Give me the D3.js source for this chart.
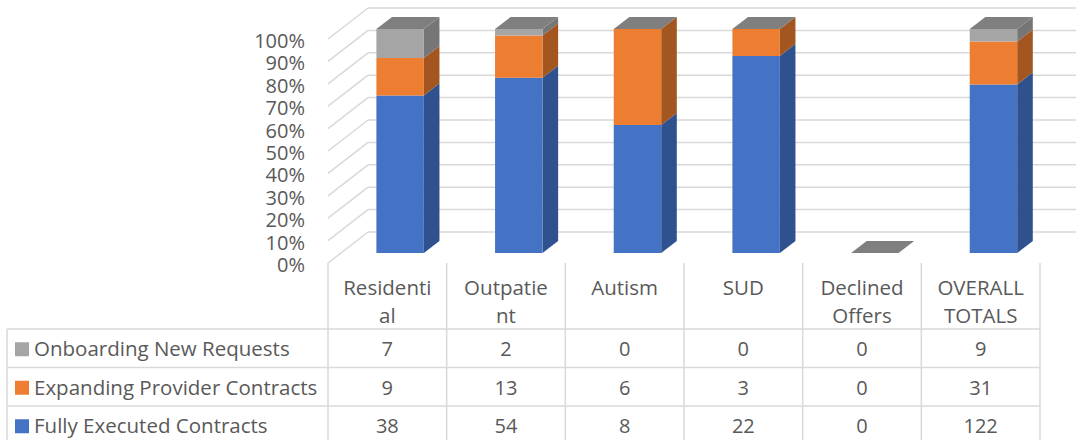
<!DOCTYPE html>
<html>
<head>
<meta charset="utf-8">
<script src="https://cdn.jsdelivr.net/npm/d3@7"></script>
<style>
    html, body { margin: 0; padding: 0; background: #fff; }
    svg { display: block; font-family: 'Open Sans', sans-serif; }
    text { fill: #595959; }
</style>
</head>
<body>
<svg id="chart" width="1076" height="440"></svg>
<script>
const categories = ['Residential', 'Outpatient', 'Autism', 'SUD', 'Declined Offers', 'OVERALL TOTALS'];
const headerLines = [['Residenti', 'al'], ['Outpatie', 'nt'], ['Autism'], ['SUD'], ['Declined', 'Offers'], ['OVERALL', 'TOTALS']];

const seriesNames = ['Fully Executed Contracts', 'Expanding Provider Contracts', 'Onboarding New Requests'];
const fullyExecuted = [38, 54, 8, 22, 0, 122];
const expanding = [9, 13, 6, 3, 0, 31];
const onboarding = [7, 2, 0, 0, 0, 9];

const yTicks = [0, 0.1, 0.2, 0.3, 0.4, 0.5, 0.6, 0.7, 0.8, 0.9, 1];

const FRONT = ['#4472C4', '#ED7D31', '#A5A5A5'];
const SIDE = ['#2F528F', '#A3561F', '#767676'];
const TOP_GRAY = '#7F7F7F';

// depth of the 3D box, in px
const DX = 40;
const DY = 31;
const BAR_Z0 = 0.32;
const BAR_Z1 = 0.71;

const svg = d3.select('#chart');

const x = d3.scaleBand().domain(categories).range([328, 1040]);
const y = d3.scaleLinear().domain([0, 1]).range([263, 39]);

const px = (xv, z) => xv + z * DX;
const py = (v, z) => y(v) - z * DY;
const pt = (xv, v, z) => [px(xv, z), py(v, z)];
const poly = pts => 'M' + pts.map(p => p.join(',')).join('L') + 'Z';

// walls: gridlines on the side wall and the back wall
const grid = svg.append('g').attr('stroke', '#d9d9d9').attr('stroke-width', 1.5).attr('fill', 'none');
yTicks.forEach(t => {
    grid.append('path').attr('d', 'M' + pt(328, t, 0).join(',') + 'L' + pt(328, t, 1).join(','));
    grid.append('path').attr('d', 'M' + pt(328, t, 1).join(',') + 'L1076,' + py(t, 1));
});

// y axis labels
const yAxis = d3.axisLeft(y)
    .tickValues(yTicks)
    .tickFormat(d3.format('.0%'))
    .tickSize(0)
    .tickPadding(0);
const axisG = svg.append('g').attr('transform', 'translate(305,2)').call(yAxis);
axisG.select('.domain').remove();
axisG.selectAll('text')
    .attr('font-size', 20)
    .attr('font-family', 'Open Sans, sans-serif')
    .attr('fill', '#595959');

// stacked data (100%)
const rows = categories.map((c, i) => ({ cat: c, a: fullyExecuted[i], b: expanding[i], c2: onboarding[i] }));
const stack = d3.stack().keys(['a', 'b', 'c2']).offset(d3.stackOffsetExpand);
const layers = stack(rows);

const barW = x.bandwidth() * 0.4;
const bars = svg.append('g');

categories.forEach((cat, i) => {
    const xl = x(cat) + x.bandwidth() / 2 - barW / 2;
    const xr = xl + barW;
    let topV = 0;
    layers.forEach((layer, s) => {
        const v0 = layer[i][0];
        const v1 = layer[i][1];
        if (v1 - v0 <= 0) return;
        bars.append('path')
            .attr('d', poly([pt(xr, v0, BAR_Z0), pt(xr, v0, BAR_Z1), pt(xr, v1, BAR_Z1), pt(xr, v1, BAR_Z0)]))
            .attr('fill', SIDE[s]);
        bars.append('path')
            .attr('d', poly([pt(xl, v0, BAR_Z0), pt(xr, v0, BAR_Z0), pt(xr, v1, BAR_Z0), pt(xl, v1, BAR_Z0)]))
            .attr('fill', FRONT[s]);
        topV = Math.max(topV, v1);
    });
    bars.append('path')
        .attr('d', poly([pt(xl, topV, BAR_Z0), pt(xr, topV, BAR_Z0), pt(xr, topV, BAR_Z1), pt(xl, topV, BAR_Z1)]))
        .attr('fill', TOP_GRAY);
});

// data table
const ROW_TOP = 329;
const ROW_H = 38.5;
const tableRows = [
    { name: seriesNames[2], values: onboarding, color: FRONT[2] },
    { name: seriesNames[1], values: expanding, color: FRONT[1] },
    { name: seriesNames[0], values: fullyExecuted, color: FRONT[0] }
];

const table = svg.append('g');
const lines = table.append('g').attr('stroke', '#d9d9d9').attr('stroke-width', 1.5);

// column dividers
const colEdges = categories.map(c => x(c)).concat([x.range()[1]]);
colEdges.forEach(cx => {
    lines.append('line').attr('x1', cx).attr('x2', cx).attr('y1', 263).attr('y2', 440);
});
lines.append('line').attr('x1', 7).attr('x2', 7).attr('y1', ROW_TOP).attr('y2', 440);
tableRows.forEach((r, k) => {
    const yy = ROW_TOP + k * ROW_H;
    lines.append('line').attr('x1', 7).attr('x2', x.range()[1]).attr('y1', yy).attr('y2', yy);
});

// header
categories.forEach((cat, i) => {
    const t = table.append('text')
        .attr('text-anchor', 'middle')
        .attr('font-size', 20.5);
    headerLines[i].forEach((ln, j) => {
        t.append('tspan').attr('x', x(cat) + x.bandwidth() / 2).attr('y', 295 + j * 28).text(ln);
    });
});

// rows
tableRows.forEach((r, k) => {
    const cy = ROW_TOP + k * ROW_H + ROW_H / 2;
    table.append('rect')
        .attr('x', 15).attr('y', cy - 6).attr('width', 14).attr('height', 14)
        .attr('fill', r.color);
    table.append('text')
        .attr('x', 34).attr('y', cy + 8)
        .attr('font-size', 20.5)
        .text(r.name);
    r.values.forEach((v, i) => {
        table.append('text')
            .attr('x', x(categories[i]) + x.bandwidth() / 2)
            .attr('y', cy + 8)
            .attr('text-anchor', 'middle')
            .attr('font-size', 20)
            .text(v);
    });
});
</script>
</body>
</html>
